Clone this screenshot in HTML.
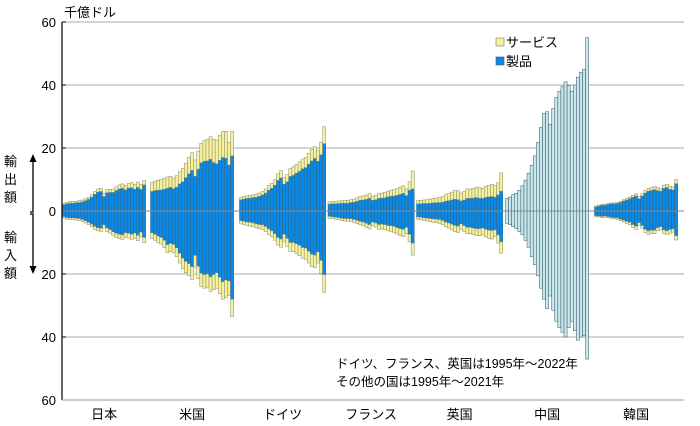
<!DOCTYPE html>
<html><head><meta charset="utf-8">
<style>
body{margin:0;background:#fff;}
svg{display:block;font-family:"Liberation Sans","Noto Sans CJK JP",sans-serif;}
</style></head>
<body>
<svg id="chart" width="700" height="426" viewBox="0 0 700 426">
<g id="grid"></g>
<g id="bars"></g>
<g id="axes"></g>
<text x="64" y="17" font-size="13">千億ドル</text>
<g>
<rect x="496" y="38" width="8" height="8" fill="#f6f29c" stroke="#777" stroke-width="0.6"/>
<text x="506" y="47" font-size="13">サービス</text>
<rect x="496" y="57" width="8" height="8" fill="#0a8ae8" stroke="#555" stroke-width="0.6"/>
<text x="506" y="66" font-size="13">製品</text>
</g>
<g>
<text x="336" y="368" font-size="12.5">ドイツ、フランス、英国は1995年～2022年</text>
<text x="336" y="386" font-size="12.5">その他の国は1995年～2021年</text>
</g>
<g>
<text x="4" y="166" font-size="13">輸</text>
<text x="4" y="184" font-size="13">出</text>
<text x="4" y="202" font-size="13">額</text>
<text x="4" y="242" font-size="13">輸</text>
<text x="4" y="260" font-size="13">入</text>
<text x="4" y="278" font-size="13">額</text>
<path d="M30 212 L33 212 L33 160 M30 214 L33 214 L33 268" stroke="#000" stroke-width="1.3" fill="none"/>
<polygon points="33,154 29.5,162 36.5,162" fill="#000"/>
<polygon points="33,274 29.5,266 36.5,266" fill="#000"/>
</g>
</svg>
<script>
const countries=["日本","米国","ドイツ","フランス","英国","中国","韓国"];
const yTicks=[60,40,20,0,20,40,60];
const jpExpTot=[2.4,2.8,3.0,3.0,3.1,3.3,3.5,3.9,4.4,5.2,6.2,7.0,7.2,5.5,6.8,6.9,7.0,7.7,8.3,8.6,8.1,8.8,9.0,8.5,9.2,8.4,9.7];
const jpExpSvc=[0.4,0.5,0.5,0.5,0.5,0.6,0.6,0.6,0.7,0.8,0.9,1.0,1.0,0.9,1.0,1.0,1.1,1.2,1.3,1.4,1.4,1.5,1.6,1.6,1.7,1.5,1.4];
const jpImpTot=[2.3,2.6,2.7,2.7,2.9,3.0,3.3,3.8,4.3,5.0,5.8,6.3,6.5,5.4,6.5,7.0,7.8,8.4,8.8,9.0,8.3,8.6,9.0,8.6,9.4,8.2,10.0];
const jpImpSvc=[0.5,0.5,0.5,0.5,0.6,0.6,0.6,0.7,0.7,0.8,0.9,1.0,1.0,1.0,1.1,1.1,1.2,1.3,1.4,1.4,1.4,1.5,1.6,1.6,1.7,1.5,1.6];
const usExpTot=[9.0,9.5,9.8,10.0,10.3,10.8,11.0,10.5,11.2,12.5,13.5,15.2,17.0,18.5,16.2,19.0,21.5,22.3,22.8,23.6,22.8,22.5,24.0,25.2,25.3,21.8,25.3];
const usExpSvc=[2.8,3.0,3.2,3.3,3.4,3.6,3.5,3.4,3.6,3.9,4.2,4.6,5.2,5.6,5.2,5.7,6.2,6.5,6.9,7.2,7.4,7.5,7.9,8.2,8.5,7.2,7.8];
const usImpTot=[8.7,9.3,10.0,10.5,11.6,13.2,12.8,13.2,14.5,16.5,18.3,19.6,20.5,21.7,17.8,21.5,24.0,24.5,24.4,25.5,25.0,24.5,26.2,28.0,27.5,26.8,33.5];
const usImpSvc=[1.8,1.9,2.0,2.1,2.3,2.5,2.5,2.6,2.8,3.1,3.3,3.6,3.8,4.0,3.7,4.0,4.2,4.3,4.4,4.6,4.8,4.9,5.2,5.5,5.6,4.6,5.5];
const deExpTot=[4.3,4.6,4.8,5.0,5.2,5.4,5.7,6.2,7.0,8.1,8.8,10.0,11.8,12.8,10.6,11.5,13.5,14.0,14.8,15.6,16.5,17.0,18.3,19.5,20.4,19.2,21.8,26.8];
const deExpSvc=[0.7,0.8,0.8,0.9,0.9,1.0,1.0,1.1,1.3,1.5,1.6,1.8,2.1,2.3,2.1,2.2,2.5,2.6,2.8,3.0,3.1,3.2,3.4,3.6,3.7,3.4,3.9,5.4];
const deImpTot=[4.1,4.4,4.6,4.8,5.0,5.4,5.6,5.8,6.5,7.5,8.2,9.3,10.8,11.5,9.8,11.2,12.8,12.9,13.5,14.2,15.0,15.3,16.5,17.6,18.0,16.5,19.8,25.8];
const deImpSvc=[1.0,1.1,1.1,1.2,1.2,1.3,1.3,1.4,1.6,1.8,1.9,2.1,2.4,2.6,2.4,2.5,2.8,2.9,3.1,3.3,3.4,3.5,3.7,3.9,4.0,3.5,4.1,5.6];
const frExpTot=[2.9,3.0,3.1,3.2,3.3,3.4,3.4,3.6,3.8,4.2,4.6,4.8,5.1,5.5,4.7,5.0,5.6,5.7,5.9,6.3,6.6,6.8,7.1,7.6,8.0,7.0,9.3,12.7];
const frExpSvc=[0.7,0.7,0.8,0.8,0.8,0.9,0.9,0.9,1.0,1.1,1.2,1.3,1.4,1.5,1.3,1.4,1.6,1.6,1.7,1.8,1.9,2.0,2.1,2.3,2.4,2.1,2.7,5.7];
const frImpTot=[2.3,2.4,2.6,2.8,3.0,3.2,3.2,3.3,3.6,4.0,4.4,4.7,5.2,5.7,4.7,5.1,5.8,5.7,5.9,6.3,6.5,6.8,7.3,7.8,8.1,7.2,9.8,14.0];
const frImpSvc=[0.6,0.6,0.6,0.7,0.7,0.8,0.8,0.8,0.9,1.0,1.1,1.2,1.3,1.4,1.2,1.3,1.5,1.5,1.6,1.7,1.8,1.9,2.0,2.2,2.3,2.0,2.4,3.8];
const ukExpTot=[3.3,3.4,3.5,3.6,3.8,4.0,4.1,4.3,4.6,5.2,5.5,6.0,6.5,6.4,5.7,6.2,7.0,7.0,7.2,7.6,7.4,7.2,7.8,8.2,8.5,8.0,9.0,12.1];
const ukExpSvc=[1.0,1.1,1.1,1.2,1.3,1.4,1.5,1.6,1.8,2.1,2.2,2.5,2.8,2.8,2.5,2.7,3.0,3.0,3.1,3.3,3.3,3.2,3.5,3.7,3.9,3.6,3.9,5.8];
const ukImpTot=[2.6,2.8,3.0,3.2,3.4,3.6,3.7,3.9,4.3,5.0,5.4,6.0,6.6,6.8,5.8,6.5,7.2,7.2,7.5,7.8,7.8,7.6,8.2,8.7,8.9,8.2,10.2,13.4];
const ukImpSvc=[0.7,0.8,0.8,0.9,1.0,1.1,1.1,1.2,1.3,1.5,1.6,1.8,2.0,2.0,1.7,1.8,2.0,2.0,2.1,2.2,2.2,2.2,2.4,2.6,2.7,2.2,2.6,3.6];
const cnExpTot=[4.0,4.4,5.2,5.6,6.6,8.0,9.8,12.0,14.5,17.5,21.7,26.5,31.0,31.5,27.5,32.5,36.0,38.0,39.5,41.0,39.8,38.0,40.0,42.5,44.0,45.0,55.0];
const cnImpTot=[3.9,4.3,5.0,5.5,6.5,7.5,9.3,11.5,14.5,17.0,20.5,24.5,28.0,31.0,27.0,31.5,35.0,37.0,38.5,40.0,37.0,35.0,38.0,41.0,40.0,39.5,47.0];
const krExpTot=[1.6,1.9,2.1,2.2,2.4,2.6,2.6,2.7,3.1,3.6,4.0,4.4,5.0,5.5,4.5,5.5,6.5,7.2,7.4,7.8,7.4,7.2,8.2,8.5,7.9,7.6,10.0];
const krExpSvc=[0.3,0.3,0.3,0.3,0.3,0.3,0.3,0.3,0.4,0.4,0.5,0.5,0.6,0.7,0.6,0.7,0.8,0.9,0.9,1.0,0.9,0.9,1.0,1.0,1.0,0.9,1.3];
const krImpTot=[1.8,1.9,2.1,2.0,2.2,2.4,2.5,2.7,3.1,3.5,4.0,4.4,5.2,5.8,4.5,5.5,6.8,7.4,7.2,7.2,6.3,6.0,7.1,7.5,7.1,6.7,9.2];
const krImpSvc=[0.3,0.3,0.4,0.4,0.4,0.4,0.4,0.5,0.5,0.6,0.7,0.8,0.9,1.0,0.8,0.9,1.0,1.1,1.1,1.1,1.0,1.0,1.1,1.2,1.2,1.0,1.3];

const groups=[
 {expTot:jpExpTot,expSvc:jpExpSvc,impTot:jpImpTot,impSvc:jpImpSvc},
 {expTot:usExpTot,expSvc:usExpSvc,impTot:usImpTot,impSvc:usImpSvc},
 {expTot:deExpTot,expSvc:deExpSvc,impTot:deImpTot,impSvc:deImpSvc},
 {expTot:frExpTot,expSvc:frExpSvc,impTot:frImpTot,impSvc:frImpSvc},
 {expTot:ukExpTot,expSvc:ukExpSvc,impTot:ukImpTot,impSvc:ukImpSvc},
 {expTot:cnExpTot,expSvc:null,impTot:cnImpTot,impSvc:null},
 {expTot:krExpTot,expSvc:krExpSvc,impTot:krImpTot,impSvc:krImpSvc}
];
const NS="http://www.w3.org/2000/svg";
const X0=62,X1=684,Y0=211,PXU=189/60,PITCH=3.08;
const groupStarts=[62.5,150.5,239.5,328,416.5,505.5,594.5];
function y(v){return Y0-v*PXU;}
function mk(tag,attrs,parent){const e=document.createElementNS(NS,tag);for(const k in attrs)e.setAttribute(k,attrs[k]);parent.appendChild(e);return e;}
const grid=document.getElementById('grid'),bars=document.getElementById('bars'),axes=document.getElementById('axes');
[60,40,20,-20,-40].forEach(v=>{
 const l=mk('line',{x1:X0,x2:X1,y1:y(v),y2:y(v),stroke:'#a8a8a8','stroke-width':1},grid);
 
 
});
yTicks.forEach((t,i)=>{
 const v=60-i*20;
 const tx=mk('text',{x:56,y:y(v)+5,'font-size':13,'text-anchor':'end'},axes);
 tx.textContent=t;
 
 
 const tk=mk('line',{x1:X0,x2:X0+4,y1:y(v),y2:y(v),stroke:'#000'},axes);
 
 
});
function bar(x,v0,v1,fill,stroke,name){
 const a=y(v0),b=y(v1);
 const r=mk('rect',{x:x,y:Math.min(a,b),width:PITCH,height:Math.abs(a-b),fill:fill,stroke:stroke,'stroke-width':0.5},bars);
 
 
}
const BLUE='#0a8ae8',YEL='#f6f29c',CN='#c8e8ee';
groups.forEach((g,gi)=>{
 const sx=groupStarts[gi];
 g.expTot.forEach((t,i)=>{
  const x=sx+i*PITCH;
  if(g.expSvc){
   bar(x,0,t-g.expSvc[i],BLUE,'#35607a','export-goods-bar');
   bar(x,t-g.expSvc[i],t,YEL,'#8a8a70','export-services-bar');
  }else bar(x,0,t,CN,'#34525c','china-export-bar');
 });
 g.impTot.forEach((t,i)=>{
  const x=sx+i*PITCH;
  if(g.impSvc){
   bar(x,0,-(t-g.impSvc[i]),BLUE,'#35607a','import-goods-bar');
   bar(x,-(t-g.impSvc[i]),-t,YEL,'#8a8a70','import-services-bar');
  }else bar(x,0,-t,CN,'#34525c','china-import-bar');
 });
 const lab=mk('text',{x:sx+g.expTot.length*PITCH/2,y:419,'font-size':13,'text-anchor':'middle'},axes);
 lab.textContent=countries[gi];
 
 
});
const z=mk('line',{x1:X0,x2:X1,y1:Y0,y2:Y0,stroke:'#888','stroke-width':1},axes);


const ya=mk('line',{x1:X0,x2:X0,y1:22,y2:400,stroke:'#000','stroke-width':1.2},axes);


const xa=mk('line',{x1:X0,x2:X1,y1:400,y2:400,stroke:'#999','stroke-width':1},axes);


</script>
</body></html>
